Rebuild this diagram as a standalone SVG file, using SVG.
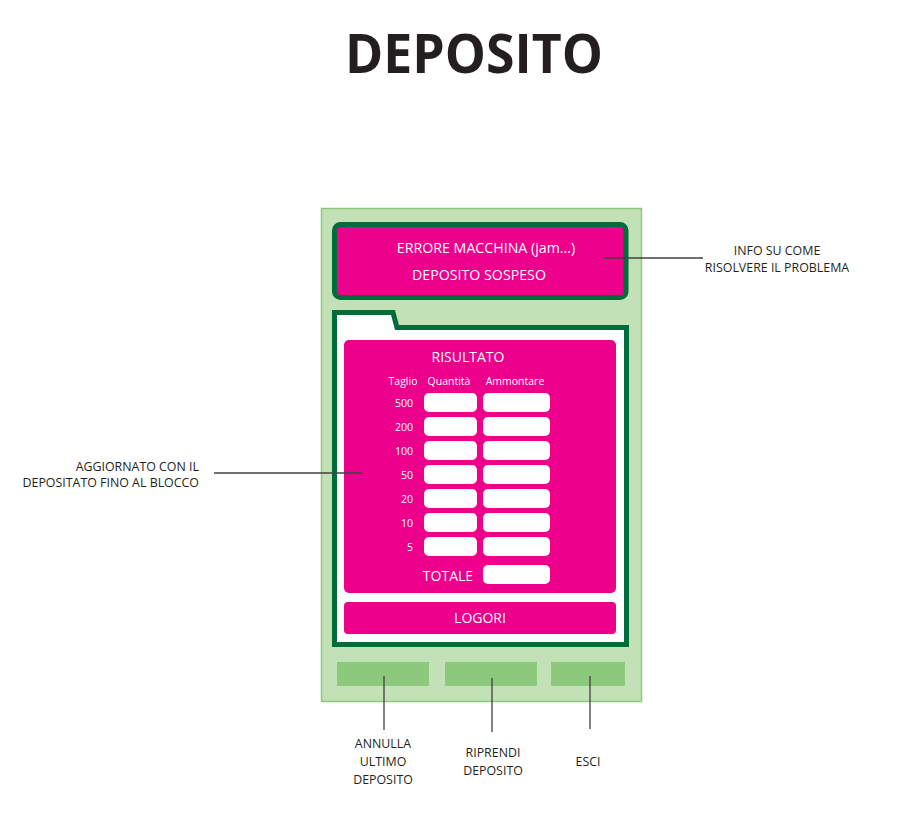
<svg xmlns="http://www.w3.org/2000/svg" width="923" height="814" viewBox="0 0 923 814">
<style>
.lbl{font-family:"Open Sans","Noto Sans",sans-serif;font-size:12.4px;fill:#231f20}
.w{font-family:"Open Sans","Noto Sans",sans-serif;fill:#fff}
.mag{fill:#ec008c}
.field{fill:#fff}
.btn{fill:#8cc97c}
.ln{stroke:#404040;stroke-width:1.3;fill:none}
</style>
<rect width="923" height="814" fill="#fff"/>
<text x="474" y="73" text-anchor="middle" font-family="'Open Sans','Noto Sans',sans-serif" font-weight="bold" font-size="54" fill="#231f20" textLength="258" lengthAdjust="spacingAndGlyphs">DEPOSITO</text>

<g id="panel">
<rect x="321.5" y="208.5" width="320" height="493" fill="#c2e1b7" stroke="#8dcb78" stroke-width="1.5"/>
</g>

<g id="error-box">
<rect x="334.5" y="224.5" width="291.5" height="73" rx="6" class="mag" stroke="#006c3a" stroke-width="5"/>
<text x="486" y="253" text-anchor="middle" class="w" font-size="14.2">ERRORE MACCHINA (jam...)</text>
<text x="479" y="280" text-anchor="middle" class="w" font-size="14.2">DEPOSITO SOSPESO</text>
</g>

<g id="folder">
<path d="M334.5,312.5 L393,312.5 L397,327.5 L626.5,327.5 L626.5,644.5 L334.5,644.5 Z" fill="#fff" stroke="#006c3a" stroke-width="5" stroke-linejoin="miter"/>
</g>

<g id="risultato">
<rect x="344" y="340" width="272" height="253" rx="5" class="mag"/>
<text x="468" y="362" text-anchor="middle" class="w" font-size="14">RISULTATO</text>
<text x="403" y="385" text-anchor="middle" class="w" font-size="10.5">Taglio</text>
<text x="449" y="385" text-anchor="middle" class="w" font-size="10.5">Quantità</text>
<text x="515" y="385" text-anchor="middle" class="w" font-size="10.5">Ammontare</text>
<g font-size="10.5" class="w" text-anchor="end">
<text x="413" y="407" class="w">500</text>
<text x="413" y="431" class="w">200</text>
<text x="413" y="455" class="w">100</text>
<text x="413" y="479" class="w">50</text>
<text x="413" y="503" class="w">20</text>
<text x="413" y="527" class="w">10</text>
<text x="413" y="551" class="w">5</text>
</g>
<g class="field">
<rect x="424" y="393" width="53" height="19" rx="5"/>
<rect x="483" y="393" width="67" height="19" rx="5"/>
<rect x="424" y="417" width="53" height="19" rx="5"/>
<rect x="483" y="417" width="67" height="19" rx="5"/>
<rect x="424" y="441" width="53" height="19" rx="5"/>
<rect x="483" y="441" width="67" height="19" rx="5"/>
<rect x="424" y="465" width="53" height="19" rx="5"/>
<rect x="483" y="465" width="67" height="19" rx="5"/>
<rect x="424" y="489" width="53" height="19" rx="5"/>
<rect x="483" y="489" width="67" height="19" rx="5"/>
<rect x="424" y="513" width="53" height="19" rx="5"/>
<rect x="483" y="513" width="67" height="19" rx="5"/>
<rect x="424" y="537" width="53" height="19" rx="5"/>
<rect x="483" y="537" width="67" height="19" rx="5"/>
<rect x="483" y="565" width="67" height="19" rx="5"/>
</g>
<text x="448" y="581" text-anchor="middle" class="w" font-size="14">TOTALE</text>
</g>

<g id="logori">
<rect x="344" y="602" width="272" height="32" rx="4" class="mag"/>
<text x="480" y="623" text-anchor="middle" class="w" font-size="14">LOGORI</text>
</g>

<g id="buttons">
<rect id="btn-annulla" x="337" y="662" width="92" height="24" class="btn"/>
<rect id="btn-riprendi" x="445" y="662" width="92" height="24" class="btn"/>
<rect id="btn-esci" x="551" y="662" width="74" height="24" class="btn"/>
</g>

<g id="connectors">
<line x1="604" y1="258" x2="703" y2="258" class="ln"/>
<line x1="214" y1="473" x2="362" y2="473" class="ln"/>
<line x1="384" y1="676" x2="384" y2="730" class="ln"/>
<line x1="492" y1="678" x2="492" y2="732" class="ln"/>
<line x1="590" y1="676" x2="590" y2="729" class="ln"/>
</g>

<g id="label-info">
<text x="777" y="255" text-anchor="middle" class="lbl">INFO SU COME</text>
<text x="777" y="272" text-anchor="middle" class="lbl">RISOLVERE IL PROBLEMA</text>
</g>
<g id="label-aggiornato">
<text x="199" y="471" text-anchor="end" class="lbl">AGGIORNATO CON IL</text>
<text x="199" y="487" text-anchor="end" class="lbl">DEPOSITATO FINO AL BLOCCO</text>
</g>
<g id="label-annulla">
<text x="383" y="748" text-anchor="middle" class="lbl">ANNULLA</text>
<text x="383" y="766" text-anchor="middle" class="lbl">ULTIMO</text>
<text x="383" y="784" text-anchor="middle" class="lbl">DEPOSITO</text>
</g>
<g id="label-riprendi">
<text x="493" y="757" text-anchor="middle" class="lbl">RIPRENDI</text>
<text x="493" y="775" text-anchor="middle" class="lbl">DEPOSITO</text>
</g>
<g id="label-esci">
<text x="588" y="766" text-anchor="middle" class="lbl">ESCI</text>
</g>
</svg>
